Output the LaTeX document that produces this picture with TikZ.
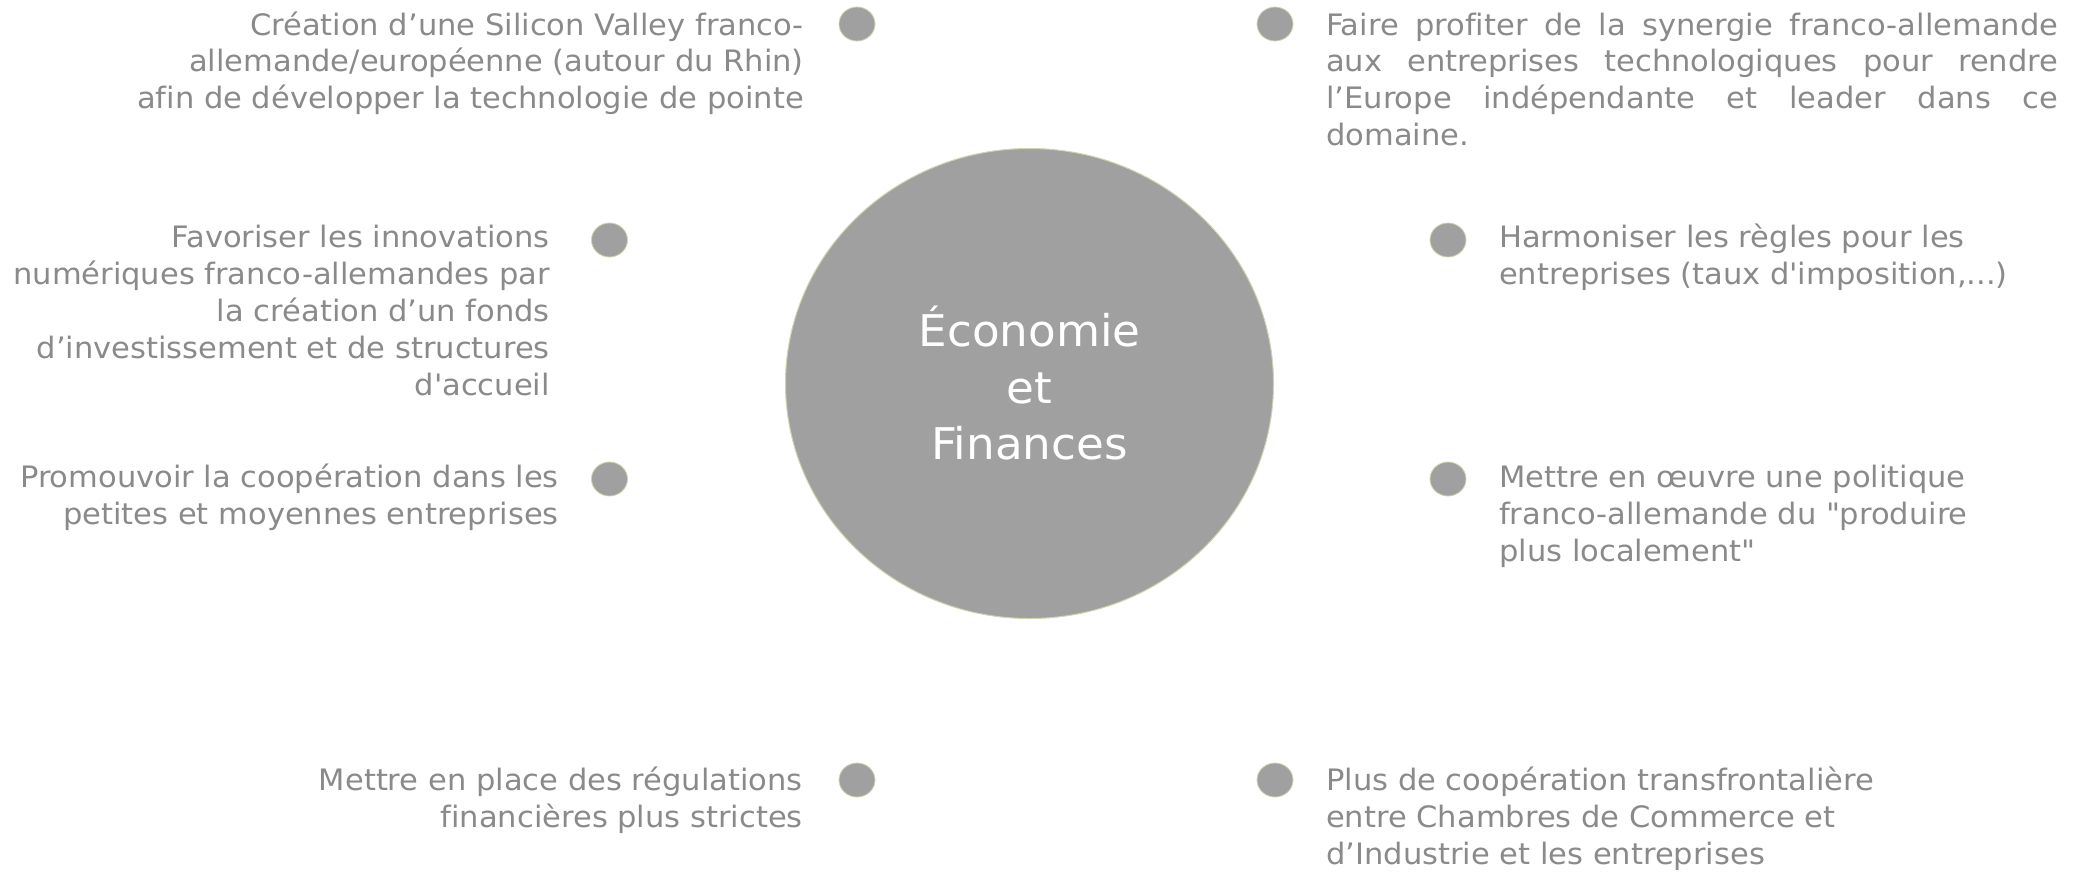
\documentclass[tikz,border=0pt]{standalone}
\usepackage{fontspec}
\setmainfont[FakeStretch=1.035,Ligatures=NoCommon]{DejaVu Sans}
\usetikzlibrary{shapes.geometric}
\definecolor{txtgray}{HTML}{8A8A8A}
\definecolor{fillgray}{HTML}{A0A0A0}
\definecolor{rimcol}{HTML}{D2D2B0}
\tikzset{
  dotmark/.style={ellipse, fill=fillgray, draw=rimcol, line width=0.8pt, minimum width=36pt, minimum height=34pt, inner sep=0pt},
  itemtxt/.style={inner sep=0pt, text=txtgray, font={\fontsize{29.5}{36.8}\selectfont}},
  bigcircle/.style={ellipse, fill=fillgray, draw=rimcol, line width=1pt, minimum width=488pt, minimum height=470pt, inner sep=0pt,
    text=white, align=center, font={\fontsize{43.7}{56.5}\selectfont}}
}
\begin{document}
\begin{tikzpicture}[x=1pt,y=-1pt]
\useasboundingbox (0,0) rectangle (2087,871);
\node[bigcircle] (c) at (1029.5,383.5) {Économie\\et\\Finances};

\node[dotmark] (d1) at (857,24) {};
\node[dotmark] (d2) at (1275,24) {};
\node[dotmark] (d3) at (609.5,240) {};
\node[dotmark] (d4) at (609.5,479) {};
\node[dotmark] (d5) at (1448,240) {};
\node[dotmark] (d6) at (1448,479) {};
\node[dotmark] (d7) at (857,780) {};
\node[dotmark] (d8) at (1275,780) {};

\node[itemtxt, align=right, anchor=base east] (t1) at (804,108.6)
  {Création d’une Silicon Valley franco-\\allemande/européenne (autour du Rhin)\\afin de développer la technologie de pointe};
\node[itemtxt, align=left, anchor=base west] (t2) at (1326,145.4)
  {\makebox[732pt][s]{Faire profiter de la synergie franco-allemande}\\
   \makebox[732pt][s]{aux entreprises technologiques pour rendre}\\
   \makebox[732pt][s]{l’Europe indépendante et leader dans ce}\\
   domaine.};
\node[itemtxt, align=right, anchor=base east] (t3) at (550,395)
  {Favoriser les innovations\\numériques franco-allemandes par\\la création d’un fonds\\d’investissement et de structures\\d\textquotesingle accueil};
\node[itemtxt, align=right, anchor=base east] (t4) at (559,524.5)
  {Promouvoir la coopération dans les\\petites et moyennes entreprises};
\node[itemtxt, align=left, anchor=base west] (t5) at (1499,284.5)
  {Harmoniser les règles pour les\\entreprises (taux d\textquotesingle imposition,...)};
\node[itemtxt, align=left, anchor=base west] (t6) at (1499,561.5)
  {Mettre en œuvre une politique\\franco-allemande du \textquotedbl produire\\plus localement\textquotedbl};
\node[itemtxt, align=right, anchor=base east] (t7) at (803,827)
  {Mettre en place des régulations\\financières plus strictes};
\node[itemtxt, align=left, anchor=base west] (t8) at (1326,864)
  {Plus de coopération transfrontalière\\entre Chambres de Commerce et\\d’Industrie et les entreprises};
\end{tikzpicture}
\end{document}
